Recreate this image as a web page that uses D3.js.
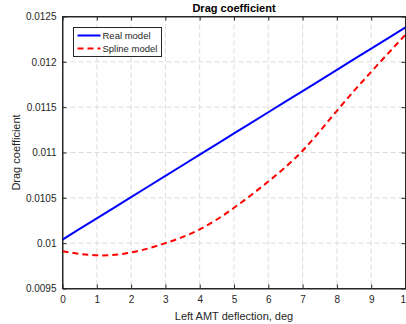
<!DOCTYPE html>
<meta charset="utf-8">
<html>
<head>
<script src="https://cdn.jsdelivr.net/npm/d3@7"></script>
<style>
body { margin: 0; background: #fff; }
text { font-family: 'Liberation Sans', Arial, sans-serif; fill: #262626; }
</style>
</head>
<body>
<div id="chart"></div>
<script>
// data
var deflection = [0, 1, 2, 3, 4, 5, 6, 7, 8, 9, 10];
var realModel = [0.01004, 0.010274, 0.010508, 0.010742, 0.010976, 0.01121, 0.011444, 0.011678, 0.011912, 0.012146, 0.01238];
var splineModel = [0.00991, 0.009866, 0.009897, 0.01000, 0.010152, 0.01039, 0.01068, 0.01102, 0.01146, 0.01189, 0.0123];
var yTicks = [0.0095, 0.01, 0.0105, 0.011, 0.0115, 0.012, 0.0125];
var yTickLabels = ["0.0095", "0.01", "0.0105", "0.011", "0.0115", "0.012", "0.0125"];

var W = 406, H = 324;
var margin = {top: 16.5, right: 0.5, bottom: 35.5, left: 62.5},
    width = W - margin.left - margin.right,
    height = H - margin.top - margin.bottom;

var svg = d3.select("#chart").append("svg")
    .attr("width", W).attr("height", H);
var g = svg.append("g")
    .attr("transform", "translate(" + margin.left + "," + margin.top + ")");

var x = d3.scaleLinear().domain([0, 10]).range([0, width]);
var y = d3.scaleLinear().domain([0.0095, 0.0125]).range([height, 0]);

// grid
g.append("g").selectAll("line").data(x.ticks(10).slice(1, -1)).enter().append("line")
    .attr("x1", d => x(d)).attr("x2", d => x(d)).attr("y1", 0).attr("y2", height)
    .attr("stroke", "#dcdcdc").attr("stroke-dasharray", "5,3");
g.append("g").selectAll("line").data(yTicks.slice(1, -1)).enter().append("line")
    .attr("y1", d => y(d)).attr("y2", d => y(d)).attr("x1", 0).attr("x2", width)
    .attr("stroke", "#dcdcdc").attr("stroke-dasharray", "5,3");

// axes
var xAxis = g.append("g").attr("transform", "translate(0," + height + ")")
    .call(d3.axisBottom(x).ticks(10).tickSizeInner(-4).tickSizeOuter(0).tickPadding(7));
var xTop = g.append("g")
    .call(d3.axisTop(x).ticks(10).tickSizeInner(-4).tickSizeOuter(0).tickFormat(""));
var yAxis = g.append("g")
    .call(d3.axisLeft(y).tickValues(yTicks).tickFormat((d, i) => yTickLabels[i])
      .tickSizeInner(-4).tickSizeOuter(0).tickPadding(6));
var yRight = g.append("g").attr("transform", "translate(" + width + ",0)")
    .call(d3.axisRight(y).tickValues(yTicks).tickSizeInner(-4).tickSizeOuter(0).tickFormat(""));
[xAxis, xTop, yAxis, yRight].forEach(function(a) {
  a.selectAll("path, line").attr("stroke", "#262626");
  a.selectAll("text").style("font-size", "10px").style("fill", "#262626");
});

// lines
var line = function(vals) {
  return d3.line().x((d, i) => x(deflection[i])).y(d => y(d)).curve(d3.curveNatural)(vals);
};
g.append("path").attr("d", line(realModel))
    .attr("fill", "none").attr("stroke", "#0000ff").attr("stroke-width", 2);
g.append("path").attr("d", line(splineModel))
    .attr("fill", "none").attr("stroke", "#ff0000").attr("stroke-width", 2)
    .attr("stroke-dasharray", "6,4");

// box
g.append("rect").attr("width", width).attr("height", height)
    .attr("fill", "none").attr("stroke", "#262626");

// legend
var leg = svg.append("g").attr("transform", "translate(73.5,27.5)");
leg.append("rect").attr("width", 88).attr("height", 29)
    .attr("fill", "#fff").attr("stroke", "#262626");
leg.append("line").attr("x1", 4).attr("x2", 27).attr("y1", 8).attr("y2", 8)
    .attr("stroke", "#0000ff").attr("stroke-width", 2);
leg.append("line").attr("x1", 4).attr("x2", 27).attr("y1", 21).attr("y2", 21)
    .attr("stroke", "#ff0000").attr("stroke-width", 2).attr("stroke-dasharray", "6,4");
leg.append("text").attr("x", 29).attr("y", 11.5).style("font-size", "9.5px").text("Real model");
leg.append("text").attr("x", 29).attr("y", 24.5).style("font-size", "9.5px").text("Spline model");

// titles
svg.append("text").attr("x", margin.left + width / 2).attr("y", 12)
    .attr("text-anchor", "middle").style("font-size", "11px").style("font-weight", "bold")
    .style("fill", "#000").text("Drag coefficient");
svg.append("text").attr("x", margin.left + width / 2).attr("y", 320)
    .attr("text-anchor", "middle").style("font-size", "11px")
    .text("Left AMT deflection, deg");
svg.append("text").attr("transform", "translate(20," + (margin.top + height / 2) + ")rotate(-90)")
    .attr("text-anchor", "middle").style("font-size", "11px")
    .text("Drag coefficient");
</script>
</body>
</html>
